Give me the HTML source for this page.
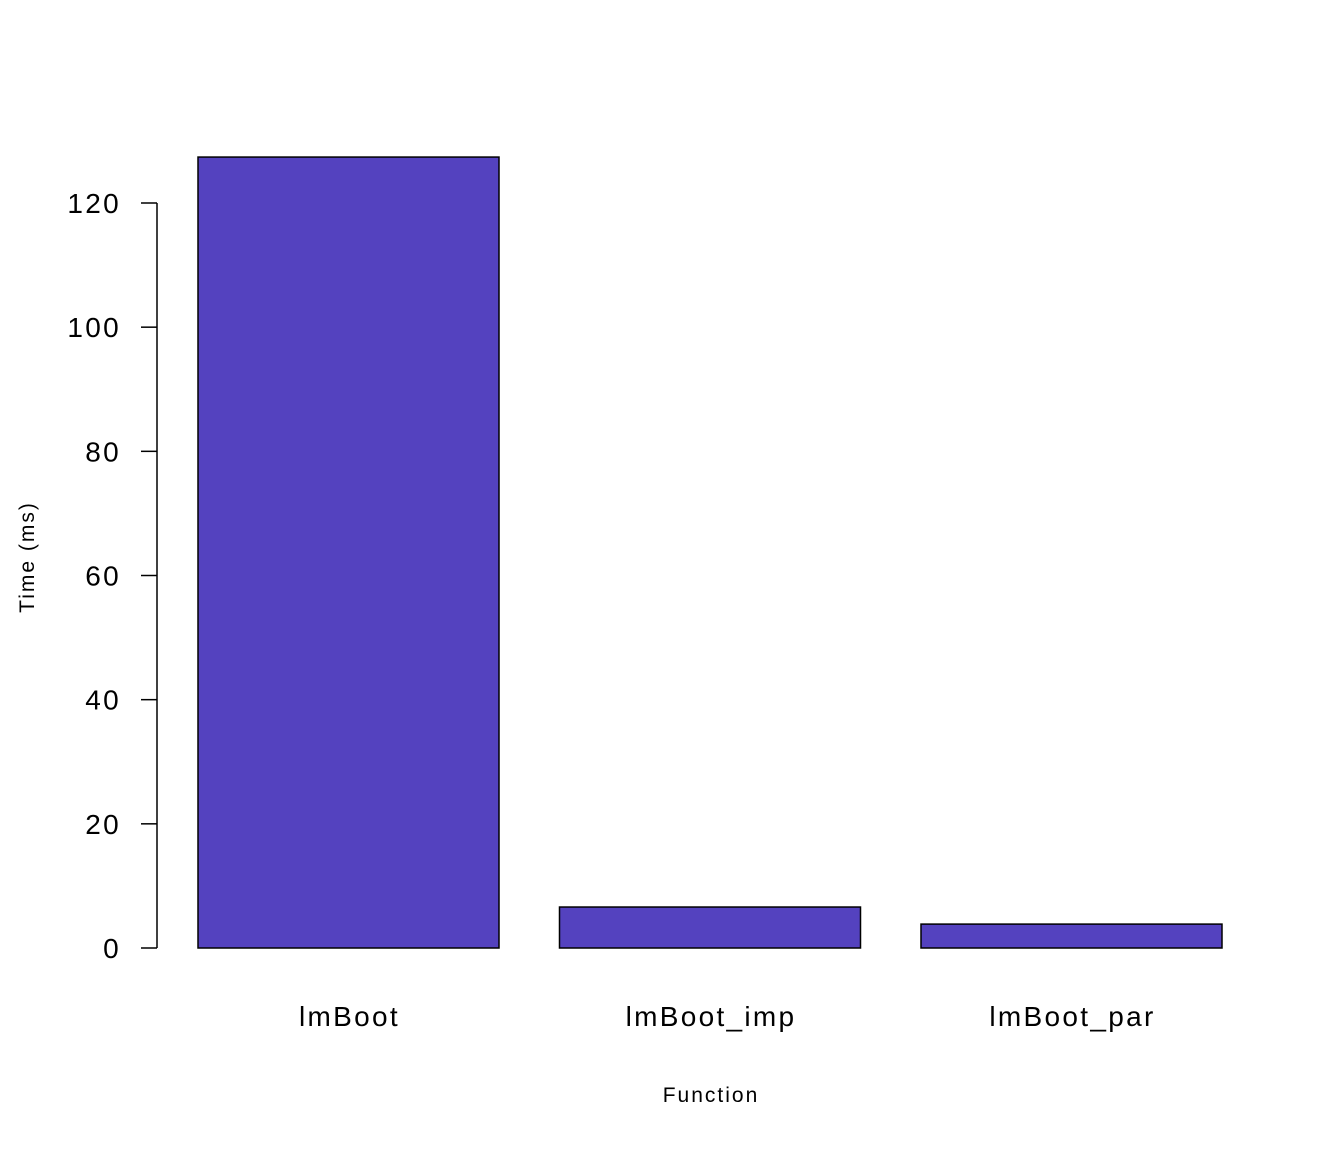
<!DOCTYPE html>
<html>
<head>
<meta charset="utf-8">
<style>
html,body{margin:0;padding:0;background:#fff;}
svg{display:block;font-family:"Liberation Sans",Arial,sans-serif;}
</style>
</head>
<body>
<svg id="chart" width="1344" height="1152" viewBox="0 0 1344 1152" xmlns="http://www.w3.org/2000/svg">
<rect width="1344" height="1152" fill="#fff"/>
<g id="yaxis"></g>
<g id="bars"></g>
<g id="xlabels"></g>
<text x="711" y="1102" font-size="21" letter-spacing="2" text-anchor="middle">Function</text>
<text transform="translate(34,557) rotate(-90)" font-size="21" letter-spacing="2" text-anchor="middle">Time (ms)</text>
</svg>
<script>
const categories = ["lmBoot", "lmBoot_imp", "lmBoot_par"];
const values = [127.4, 6.6, 3.85];
const yTicks = [0, 20, 40, 60, 80, 100, 120];

const NS = "http://www.w3.org/2000/svg";
const y0 = 948, pxPerUnit = 745 / 120;
function yScale(v){ return y0 - v * pxPerUnit; }
const barLeft0 = 198, barW = 301, barStep = 361.5;
function xScale(i){ return barLeft0 + i * barStep; }

const yaxis = document.getElementById("yaxis");
const axisLine = document.createElementNS(NS, "line");


axisLine.setAttribute("x1", 157); axisLine.setAttribute("x2", 157);
axisLine.setAttribute("y1", yScale(yTicks[0])); axisLine.setAttribute("y2", yScale(yTicks[yTicks.length-1]));
axisLine.setAttribute("stroke", "#000"); axisLine.setAttribute("stroke-width", "1.5");
yaxis.appendChild(axisLine);
yTicks.forEach(t => {
  const tk = document.createElementNS(NS, "line");
  
  
  tk.setAttribute("x1", 141); tk.setAttribute("x2", 157);
  tk.setAttribute("y1", yScale(t)); tk.setAttribute("y2", yScale(t));
  tk.setAttribute("stroke", "#000"); tk.setAttribute("stroke-width", "1.5");
  yaxis.appendChild(tk);
  const lb = document.createElementNS(NS, "text");
  
  
  lb.setAttribute("x", 121); lb.setAttribute("y", yScale(t) + 10);
  lb.setAttribute("font-size", "28"); lb.setAttribute("letter-spacing", "2.3");
  lb.setAttribute("text-anchor", "end");
  lb.textContent = t;
  yaxis.appendChild(lb);
});

const bars = document.getElementById("bars");
const xl = document.getElementById("xlabels");
categories.forEach((c, i) => {
  const r = document.createElementNS(NS, "rect");
  
  
  r.setAttribute("x", xScale(i)); r.setAttribute("width", barW);
  r.setAttribute("y", yScale(values[i])); r.setAttribute("height", y0 - yScale(values[i]));
  r.setAttribute("fill", "#5442BF"); r.setAttribute("stroke", "#000"); r.setAttribute("stroke-width", "1.5");
  bars.appendChild(r);
  const t = document.createElementNS(NS, "text");
  
  
  t.setAttribute("x", xScale(i) + barW / 2 + 1); t.setAttribute("y", 1026);
  t.setAttribute("font-size", "28"); t.setAttribute("letter-spacing", "2.3");
  t.setAttribute("text-anchor", "middle");
  t.textContent = c;
  xl.appendChild(t);
});
</script>
</body>
</html>
